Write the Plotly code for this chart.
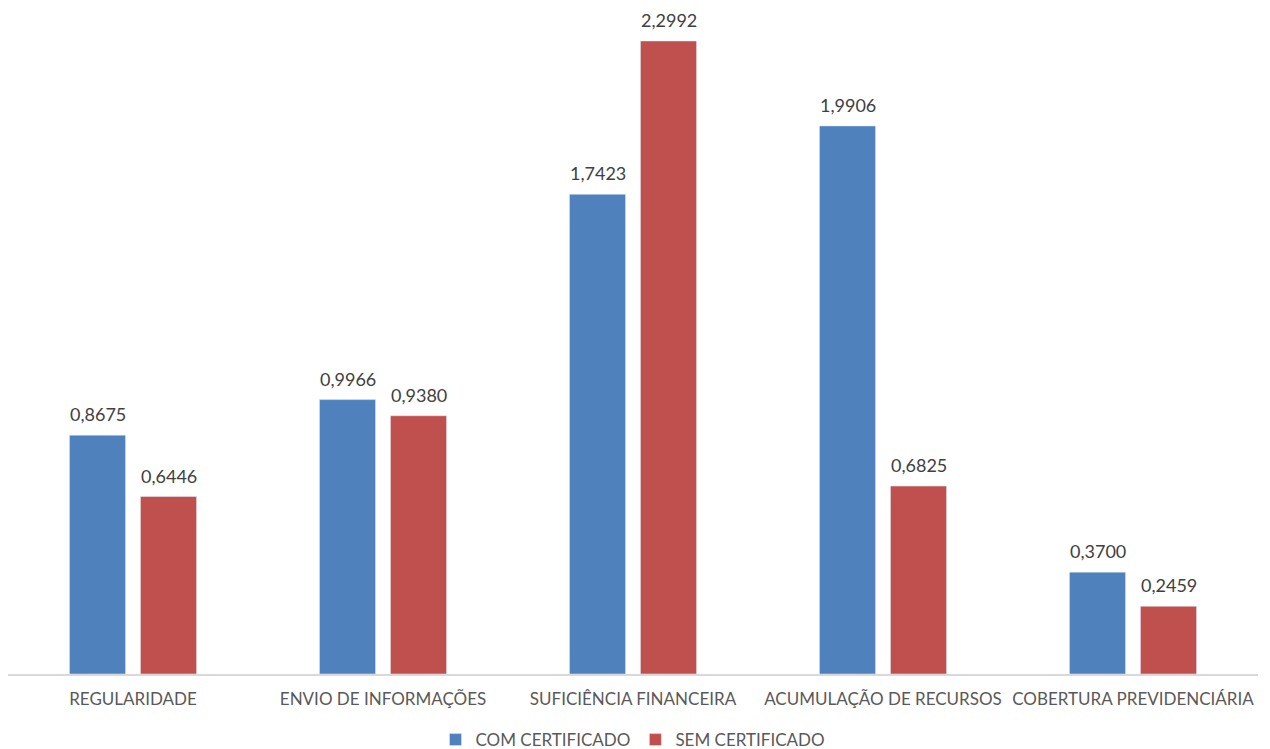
import plotly.graph_objects as go

categorias = ["REGULARIDADE", "ENVIO DE INFORMAÇÕES", "SUFICIÊNCIA FINANCEIRA",
              "ACUMULAÇÃO DE RECURSOS", "COBERTURA PREVIDENCIÁRIA"]
com_certificado = [0.8675, 0.9966, 1.7423, 1.9906, 0.3700]
sem_certificado = [0.6446, 0.9380, 2.2992, 0.6825, 0.2459]

FONT = "Lato"
series = [
    ("COM CERTIFICADO", com_certificado, "#4F81BD", -35.5),
    ("SEM CERTIFICADO", sem_certificado, "#C0504D", 35.5),
]

fig = go.Figure()
for nome, valores, cor, desloc in series:
    fig.add_trace(go.Bar(name=nome, x=categorias, y=valores,
                         marker=dict(color=cor), cliponaxis=False))
    # value labels placed above each bar
    for cat, v in zip(categorias, valores):
        fig.add_annotation(
            x=cat, y=v, xref="x", yref="y",
            text=f"{v:.4f}".replace(".", ","),
            showarrow=False, xshift=desloc, yshift=8,
            yanchor="bottom", xanchor="center",
            font=dict(family=FONT, size=18, color="#404040"),
        )

fig.update_layout(
    width=1270, height=749,
    margin=dict(l=8, r=12, t=0, b=75, autoexpand=False),
    paper_bgcolor="white", plot_bgcolor="white",
    separators=",.",
    barmode="group", bargap=0.432, bargroupgap=0.21,
    font=dict(family=FONT, size=17, color="#595959"),
    showlegend=True,
    legend=dict(orientation="h", x=0.5, xanchor="center",
                y=-0.098, yanchor="middle",
                font=dict(family=FONT, size=17, color="#595959"),
                itemwidth=30, traceorder="normal"),
    xaxis=dict(showline=True, linecolor="#D9D9D9", linewidth=1.5,
               ticks="outside", ticklen=9, tickcolor="rgba(0,0,0,0)",
               tickfont=dict(family=FONT, size=17, color="#595959"),
               showgrid=False, automargin=False),
    yaxis=dict(range=[0, 2.448], visible=False, showgrid=False, zeroline=False),
)

fig.write_html("out.html")
